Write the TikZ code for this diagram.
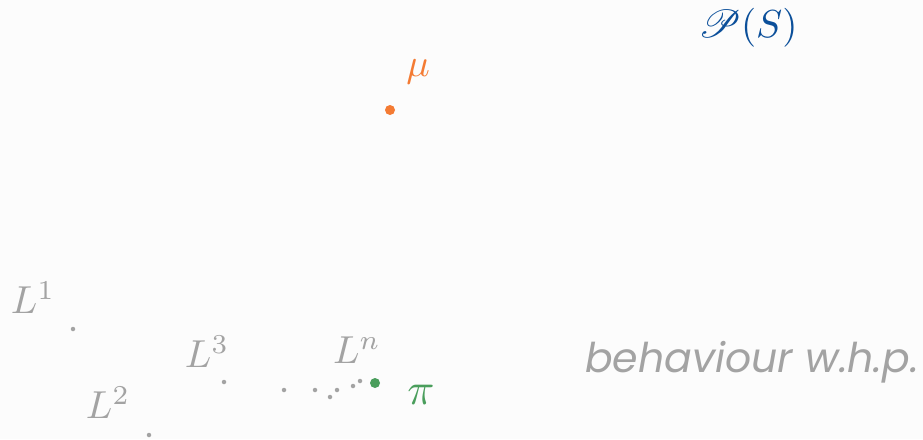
\documentclass[tikz,border=0pt]{standalone}
\usepackage{mathrsfs}
\usepackage{fontspec}
\newfontfamily\pop{Poppins}
\definecolor{bgc}{HTML}{FCFCFC}
\definecolor{greyc}{HTML}{A3A3A3}
\definecolor{orangec}{HTML}{F47B33}
\definecolor{greenc}{HTML}{4A9E5C}
\definecolor{bluec}{HTML}{0B4F9A}
\tikzset{
  sdot/.style={circle,fill=greyc,inner sep=0pt,minimum size=4.5pt},
  bdot/.style={circle,inner sep=0pt,minimum size=10pt},
  lab/.style={inner sep=0pt,font=\fontsize{10}{12}\selectfont,scale=3.9,transform shape},
}
\begin{document}
\begin{tikzpicture}[x=1pt,y=-1pt]
\fill[bgc] (0,0) rectangle (923,439);
\useasboundingbox (0,0) rectangle (923,439);
\node[lab,text=bluec] (PS) at (748,28) {$\mathscr{P}(S)$};
\node[bdot,fill=orangec] (mu) at (390,110) {};
\node[lab,text=orangec] (mulab) at (418,72) {$\mu$};
\node[sdot] (d1) at (73,329) {};
\node[sdot] (d2) at (149,435) {};
\node[sdot] (d3) at (224,382) {};
\node[sdot] (e1) at (284,390) {};
\node[sdot] (e2) at (315,390) {};
\node[sdot] (e3) at (330,397) {};
\node[sdot] (e4) at (337,390) {};
\node[sdot] (e5) at (353,386) {};
\node[sdot] (e6) at (360,381) {};
\node[bdot,fill=greenc] (pi) at (375,383) {};
\node[lab,text=greyc] (L1) at (33,298) {$L^1$};
\node[lab,text=greyc] (L2) at (108,403) {$L^2$};
\node[lab,text=greyc] (L3) at (207,352) {$L^3$};
\node[lab,text=greyc] (Ln) at (357,350) {$L^n$};
\node[lab,text=greenc,scale=1.15] (pilab) at (421,395) {$\pi$};
\node[inner sep=0pt,text=greyc,font=\pop\itshape\fontsize{41}{45}\selectfont] (beh) at (752,362) {behaviour w.h.p.};
\end{tikzpicture}
\end{document}
